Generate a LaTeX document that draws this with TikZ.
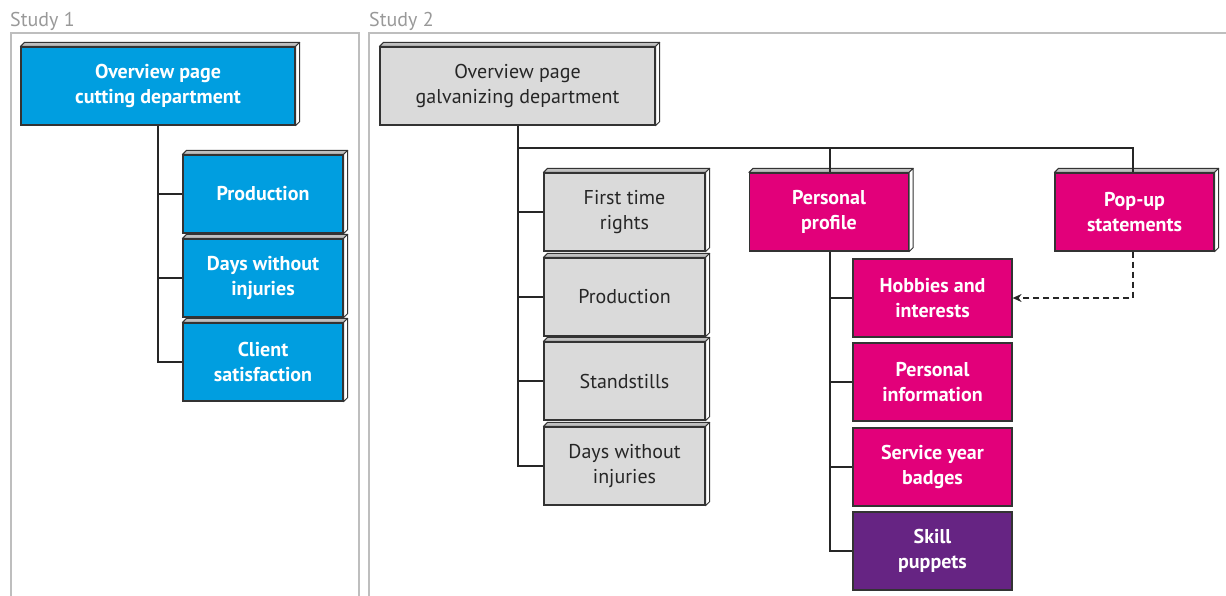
\documentclass[tikz,border=0pt]{standalone}
\usepackage{fontspec}
\setmainfont{PT Sans}
\usetikzlibrary{calc,arrows.meta}
\definecolor{cblue}{RGB}{0,158,224}
\definecolor{cmag}{RGB}{226,0,122}
\definecolor{cpur}{RGB}{102,36,131}
\definecolor{cgray}{RGB}{218,218,218}
\definecolor{cframe}{RGB}{190,190,190}
\tikzset{
  box/.style={draw=black!80, line width=1.2pt, minimum height=78, inner sep=0pt, align=center,
    font=\fontsize{20}{25}\selectfont},
  wbox/.style={box, text=white, font=\fontsize{20}{25}\selectfont\bfseries},
  bluebox/.style={wbox, fill=cblue, minimum width=160},
  magbox/.style={wbox, fill=cmag, minimum width=159},
  purbox/.style={wbox, fill=cpur, minimum width=159},
  graybox/.style={box, fill=cgray, text=black!85, minimum width=161},
  conn/.style={line width=1.3pt, black!85},
  frame/.style={line width=2pt, cframe},
  studylabel/.style={anchor=base west, inner sep=0pt, text=black!40, font=\fontsize{20}{22}\selectfont},
  extface/.style={draw=black!80, line width=1pt, line join=round}
}
\newcommand{\extr}[1]{%
  \filldraw[extface, fill=black!25] (#1.north west) -- ++(4,-4) -- ($(#1.north east)+(4,-4)$) -- (#1.north east) -- cycle;
  \filldraw[extface, fill=white] (#1.north east) -- ++(4,-4) -- ($(#1.south east)+(4,-4)$) -- (#1.south east) -- cycle;
}
\begin{document}
\begin{tikzpicture}[x=1pt,y=-1pt]
\useasboundingbox (0,0) rectangle (1226,595);
\begin{scope}
\clip (0,0) rectangle (1226,595);
% frames
\draw[frame] (11,600) -- (11,33) -- (359,33) -- (359,600);
\draw[frame] (369,600) -- (369,33) -- (1240,33);
\node[studylabel] (s1) at (10,26) {Study 1};
\node[studylabel] (s2) at (369,26) {Study 2};

% Study 1
\node[bluebox, minimum width=274] (o1) at (158,86) {Overview page\\cutting department};
\extr{o1}
\node[bluebox] (p1) at (263,194) {Production};
\extr{p1}
\node[bluebox] (d1) at (263,278) {Days without\\injuries};
\extr{d1}
\node[bluebox] (c1) at (263,362) {Client\\satisfaction};
\extr{c1}
\draw[conn] (o1.south) -- (o1.south |- c1.west) -- (c1.west);
\draw[conn] (o1.south |- p1.west) -- (p1.west);
\draw[conn] (o1.south |- d1.west) -- (d1.west);

% Study 2
\node[graybox, minimum width=275] (o2) at (517.5,86) {Overview page\\galvanizing department};
\extr{o2}
\node[graybox] (g1) at (624.5,212) {First time\\rights};
\extr{g1}
\node[graybox] (g2) at (624.5,297) {Production};
\extr{g2}
\node[graybox] (g3) at (624.5,381) {Standstills};
\extr{g3}
\node[graybox] (g4) at (624.5,466) {Days without\\injuries};
\extr{g4}
\coordinate (hb) at (518,148);
\draw[conn] (o2.south -| hb) -- (hb |- g4.west) -- (g4.west);
\draw[conn] (hb |- g1.west) -- (g1.west);
\draw[conn] (hb |- g2.west) -- (g2.west);
\draw[conn] (hb |- g3.west) -- (g3.west);

\node[magbox] (pp) at (829,212) {Personal\\profile};
\extr{pp}
\node[magbox] (pu) at (1134.5,212) {Pop-up\\statements};
\extr{pu}
\coordinate (ppt) at (830,148);
\coordinate (put) at (1133,148);
\draw[conn] (hb) -- (put) -- (put |- pu.north);
\draw[conn] (ppt) -- (ppt |- pp.north);

\node[magbox] (h1) at (932.5,298) {Hobbies and\\interests};
\node[magbox] (h2) at (932.5,382) {Personal\\information};
\node[magbox] (h3) at (932.5,467) {Service year\\badges};
\node[purbox] (h4) at (932.5,551) {Skill\\puppets};
\draw[conn] (ppt |- pp.south) -- (ppt |- h4.west) -- (h4.west);
\draw[conn] (ppt |- h1.west) -- (h1.west);
\draw[conn] (ppt |- h2.west) -- (h2.west);
\draw[conn] (ppt |- h3.west) -- (h3.west);

\draw[conn, dashed, dash pattern=on 6pt off 4pt, -{Stealth[length=9pt,width=8pt]}] (put |- pu.south) -- (put |- h1.east) -- (h1.east);
\end{scope}
\end{tikzpicture}
\end{document}
